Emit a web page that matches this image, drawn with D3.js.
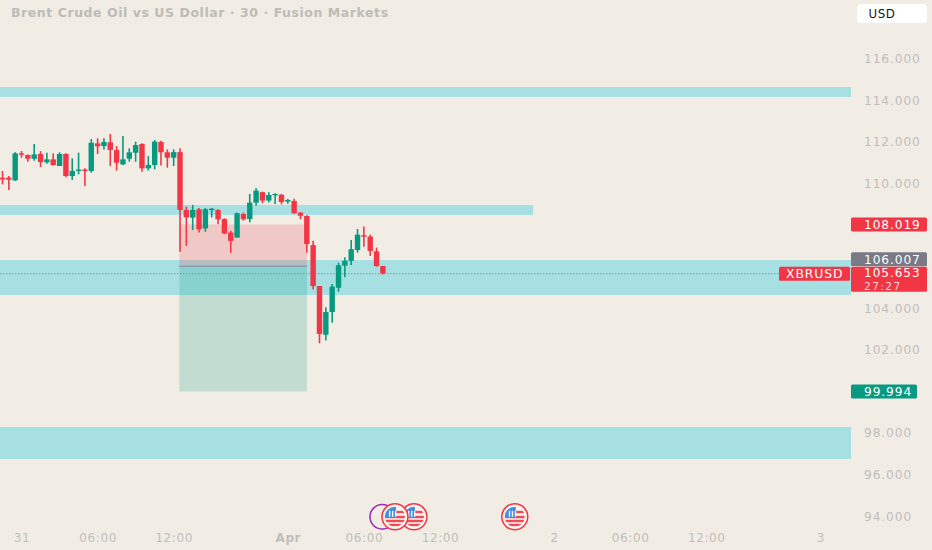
<!DOCTYPE html>
<html>
<meta charset="utf-8">
<script src="https://d3js.org/d3.v7.min.js"></script>
<style>
  html, body { margin: 0; padding: 0; background: #f1ede5; overflow: hidden; }
  text { font-family: "DejaVu Sans", sans-serif; }
</style>
<div id="chart"></div>
<script>
// bars are 30 minute, index 0 is the first bar on the left
var opens  = [110.27,110.27,110.14,111.44,111.36,111.18,111.41,111.01,111.15,110.83,111.41,110.35,110.59,110.66,110.59,111.92,111.79,111.97,111.60,110.91,111.18,111.47,111.89,110.72,110.88,111.99,111.49,111.23,
              111.50,108.72,108.35,108.75,107.83,108.72,108.72,108.28,107.63,107.39,108.52,108.28,109.07,109.57,109.17,109.45,109.45,109.12,109.15,108.59,108.43,107.03,105.06,102.72,103.81,104.98,106.04,106.27,106.79,107.50,107.44,106.73,106.02];
var highs  = [110.59,110.35,111.49,111.55,111.39,111.89,111.55,111.47,111.44,111.49,111.44,111.20,111.47,110.72,112.13,112.16,112.16,112.37,111.79,112.27,111.68,112.00,111.92,111.31,112.08,112.05,111.63,111.63,
              111.68,108.88,108.96,108.81,108.81,108.81,108.75,108.32,107.72,108.60,108.59,109.49,109.76,109.60,109.57,109.52,109.49,109.24,109.26,108.62,108.46,107.24,105.06,104.04,105.16,106.18,106.44,107.27,107.80,107.92,107.53,106.91,106.02];
var lows   = [109.95,109.68,110.11,111.23,111.04,111.09,110.78,110.94,110.85,110.83,110.29,110.16,110.43,109.87,110.51,111.41,111.63,110.83,110.61,110.88,111.04,111.04,110.56,110.61,110.67,110.86,110.75,110.83,
              106.71,106.99,107.75,107.63,107.67,108.36,108.03,107.55,106.66,107.39,108.20,108.12,108.92,109.04,109.08,109.00,108.99,109.02,108.54,108.27,106.66,104.90,102.31,102.44,103.30,104.79,105.48,106.07,106.67,106.95,106.51,105.99,105.62];
var closes = [110.19,110.17,111.44,111.38,111.18,111.39,111.02,111.15,110.88,111.41,110.35,110.59,110.66,110.59,111.95,111.78,111.99,111.60,110.99,111.15,111.49,111.84,110.72,110.88,112.00,111.49,111.23,111.50,
              108.72,108.36,108.72,107.79,108.75,108.78,108.27,107.59,107.23,108.56,108.27,109.07,109.65,109.17,109.44,109.49,109.10,109.20,108.56,108.44,107.08,105.06,102.76,103.81,105.03,106.06,106.28,106.83,107.53,107.44,106.75,106.02,105.67];

// time axis
var timeTickBars = [3, 15, 27, 45, 57, 69, 87, 99, 111, 129];
var timeTickLabels = ["31", "06:00", "12:00", "Apr", "06:00", "12:00", "2", "06:00", "12:00", "3"];
var boldTicks = ["Apr"];

// price axis
var priceTicks = [116, 114, 112, 110, 104, 102, 98, 96, 94];

// support / resistance zones [top, bottom, last bar]
var zoneTops    = [114.63, 108.96, 106.31, 98.28];
var zoneBottoms = [114.15, 108.48, 104.63, 96.74];
var zoneEnds    = [null, 83.7, null, null];

// short position drawing
var posStartBar = 27.9, posEndBar = 48;
var posStop = 108.02, posEntry = 106.01, posTarget = 99.99;

// economic events, drawn in this order
var eventBars = [59.9, 64.9, 61.9, 80.8];
var eventKinds = ["purple", "us", "us", "us"];

var W = 932, H = 550, plotR = 851;
var RED = "#f23645", GREEN = "#089981", AXIS = "#bfbebb";

var x = d3.scaleLinear().domain([0, 100]).range([2.5, 636.5]);
var y = d3.scaleLinear().domain([94, 116]).range([516.1, 58.5]);

var svg = d3.select("#chart").append("svg")
    .attr("width", W).attr("height", H)
    .style("display", "block");

svg.append("rect").attr("width", W).attr("height", H).attr("fill", "#f1ede5");

svg.append("text")
    .attr("x", 11).attr("y", 17)
    .attr("font-size", 12.5).attr("font-weight", "bold")
    .attr("fill", "#bdbcb7").attr("letter-spacing", 0.55)
    .text("Brent Crude Oil vs US Dollar · 30 · Fusion Markets");

// zones
svg.selectAll("rect.zone")
    .data(zoneTops)
    .enter().append("rect")
    .attr("class", "zone")
    .attr("x", 0)
    .attr("y", function(d) { return y(d); })
    .attr("width", function(d, i) { return zoneEnds[i] === null ? plotR : x(zoneEnds[i]); })
    .attr("height", function(d, i) { return y(zoneBottoms[i]) - y(d); })
    .attr("fill", "#a7e0e3");

// position box
var px0 = x(posStartBar), px1 = x(posEndBar);
svg.append("rect").attr("x", px0).attr("width", px1 - px0)
    .attr("y", y(posStop)).attr("height", y(posEntry) - y(posStop))
    .attr("fill", "#f23645").attr("fill-opacity", 0.2);
svg.append("rect").attr("x", px0).attr("width", px1 - px0)
    .attr("y", y(posEntry)).attr("height", y(posTarget) - y(posEntry))
    .attr("fill", "#089981").attr("fill-opacity", 0.2);
svg.append("line").attr("x1", px0).attr("x2", px1)
    .attr("y1", y(posEntry)).attr("y2", y(posEntry))
    .attr("stroke", "#8a94a4").attr("stroke-width", 1.5).attr("stroke-opacity", 0.8);

// last price line
svg.append("line").attr("x1", 0).attr("x2", 779)
    .attr("y1", y(105.653)).attr("y2", y(105.653))
    .attr("stroke", "#8d8f96").attr("stroke-width", 1.1)
    .attr("stroke-dasharray", "1.4 1.6");

// candles
var bars = d3.range(opens.length);
function colour(i) { return closes[i] >= opens[i] ? GREEN : RED; }

svg.selectAll("line.wick")
    .data(bars)
    .enter().append("line")
    .attr("class", "wick")
    .attr("x1", function(i) { return x(i); })
    .attr("x2", function(i) { return x(i); })
    .attr("y1", function(i) { return y(highs[i]); })
    .attr("y2", function(i) { return y(lows[i]); })
    .attr("stroke", colour)
    .attr("stroke-width", 1.6);

svg.selectAll("rect.body")
    .data(bars)
    .enter().append("rect")
    .attr("class", "body")
    .attr("x", function(i) { return x(i) - 2.7; })
    .attr("width", 5.4)
    .attr("y", function(i) { return y(Math.max(opens[i], closes[i])); })
    .attr("height", function(i) { return Math.max(1.4, Math.abs(y(opens[i]) - y(closes[i]))); })
    .attr("fill", colour);

// axes, drawn with d3 and then stripped of lines
var yAxis = svg.append("g")
    .attr("transform", "translate(864,0)")
    .call(d3.axisRight(y).tickValues(priceTicks).tickSize(0).tickPadding(0).tickFormat(d3.format(".3f")));
yAxis.select(".domain").remove();
yAxis.selectAll("text")
    .attr("font-size", 12.2).attr("fill", AXIS).attr("letter-spacing", 0.9)
    .style("font-family", '"DejaVu Sans", sans-serif');

var xAxis = svg.append("g")
    .attr("transform", "translate(0,533.5)")
    .call(d3.axisBottom(x).tickValues(timeTickBars).tickSize(0).tickPadding(0)
        .tickFormat(function(d, i) { return timeTickLabels[i]; }));
xAxis.select(".domain").remove();
xAxis.selectAll("text")
    .attr("font-size", 12).attr("fill", AXIS).attr("letter-spacing", 0.6)
    .attr("font-weight", function(d, i) { return boldTicks.indexOf(timeTickLabels[i]) >= 0 ? "bold" : "normal"; })
    .style("font-family", '"DejaVu Sans", sans-serif');

// events
var defs = svg.append("defs");
var evY = 516.8, evR = 10;
eventBars.forEach(function(b, i) {
    var cx = x(b);
    var g = svg.append("g");
    if (eventKinds[i] === "purple") {
        g.append("circle").attr("cx", cx).attr("cy", evY).attr("r", evR + 2.3)
            .attr("fill", "#f1ede5").attr("stroke", "#9c27b0").attr("stroke-width", 1.5);
        return;
    }
    defs.append("clipPath").attr("id", "flag" + i).append("circle")
        .attr("cx", cx).attr("cy", evY).attr("r", evR);
    g.append("circle").attr("cx", cx).attr("cy", evY).attr("r", evR + 3)
        .attr("fill", "#f7f3ee").attr("stroke", RED).attr("stroke-width", 1.5);
    var flag = g.append("g").attr("clip-path", "url(#flag" + i + ")");
    [-6, -1, 3, 7].forEach(function(o) {
        flag.append("rect").attr("x", cx - evR).attr("y", evY + o).attr("width", evR * 2).attr("height", 2.4).attr("fill", "#ef4a55");
    });
    flag.append("rect").attr("x", cx - evR).attr("y", evY - evR).attr("width", evR + 1).attr("height", evR + 1).attr("fill", "#3f8fe0");
    [-6, -3, 0].forEach(function(o) {
        flag.append("rect").attr("x", cx + o).attr("y", evY - 6).attr("width", 1.4).attr("height", 6).attr("fill", "#f7f3ee");
    });
});

// right side price labels, the grey one sits above its price so it stays clear of the red one
var tagPrices = [108.019, 106.007, 99.994];
var tagColours = [RED, "#787b86", GREEN];
var tagRight = [927, 927, 917];
var tagShift = [0, -7, 0];

tagPrices.forEach(function(p, i) {
    var cy = y(p) + tagShift[i];
    svg.append("rect").attr("x", 851).attr("y", cy - 7).attr("width", tagRight[i] - 851).attr("height", 14)
        .attr("rx", 1.5).attr("fill", tagColours[i]);
    svg.append("text").attr("x", 864).attr("y", cy + 4.4)
        .attr("font-size", 12.2).attr("letter-spacing", 0.9).attr("fill", "#fff")
        .text(d3.format(".3f")(p));
});

svg.append("rect").attr("x", 851).attr("y", y(105.653) - 7).attr("width", 76).attr("height", 25)
    .attr("rx", 1.5).attr("fill", RED);
svg.append("text").attr("x", 864).attr("y", y(105.653) + 3.6)
    .attr("font-size", 12).attr("letter-spacing", 1).attr("fill", "#fff").text("105.653");
svg.append("text").attr("x", 864).attr("y", y(105.653) + 16.6)
    .attr("font-size", 10.6).attr("letter-spacing", 1.4).attr("fill", "#fbd5d8").text("27:27");
svg.append("rect").attr("x", 779).attr("y", y(105.653) - 7).attr("width", 71).attr("height", 14)
    .attr("rx", 1.5).attr("fill", RED);
svg.append("text").attr("x", 786).attr("y", y(105.653) + 4.4)
    .attr("font-size", 12.4).attr("letter-spacing", 0.9).attr("fill", "#fff").text("XBRUSD");

// currency button
svg.append("rect").attr("x", 857).attr("y", 4).attr("width", 70).attr("height", 19).attr("rx", 4).attr("fill", "#fff");
svg.append("text").attr("x", 868.5).attr("y", 17.5).attr("font-size", 11.8).attr("letter-spacing", 0.6).attr("fill", "#131722").text("USD");
</script>
</html>
